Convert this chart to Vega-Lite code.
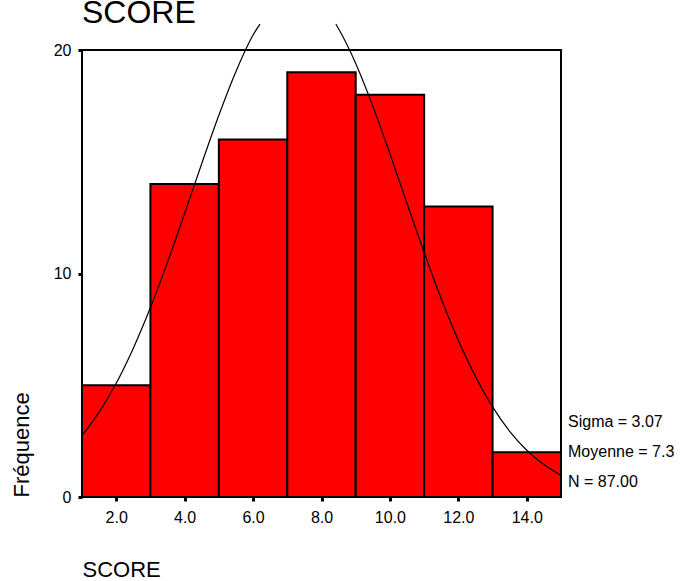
{
  "$schema": "https://vega.github.io/schema/vega-lite/v6.json",
  "autosize": "none",
  "width": 479,
  "height": 447,
  "padding": {"left": 82, "top": 50, "right": 124, "bottom": 84},
  "background": "white",
  "config": {
    "font": "Liberation Sans",
    "view": {"stroke": "black", "strokeWidth": 2},
    "axis": {"grid": false, "domain": false, "labelFont": "Liberation Sans", "titleFont": "Liberation Sans", "labelColor": "black", "titleColor": "black", "tickColor": "black"}
  },
  "title": {"text": "SCORE", "anchor": "start", "frame": "group", "fontSize": 32, "fontWeight": "normal", "font": "Liberation Sans", "color": "black", "baseline": "alphabetic", "offset": 0, "dy": 33},
  "datasets": {
    "bins": [
      {"bin_start": 1, "bin_end": 3, "count": 5},
      {"bin_start": 3, "bin_end": 5, "count": 14},
      {"bin_start": 5, "bin_end": 7, "count": 16},
      {"bin_start": 7, "bin_end": 9, "count": 19},
      {"bin_start": 9, "bin_end": 11, "count": 18},
      {"bin_start": 11, "bin_end": 13, "count": 13},
      {"bin_start": 13, "bin_end": 15, "count": 2}
    ],
    "curve": [
      {"score": 1, "density": 2.75, "branch": "left"},
      {"score": 1.5, "density": 3.8, "branch": "left"},
      {"score": 2, "density": 5.09, "branch": "left"},
      {"score": 2.5, "density": 6.66, "branch": "left"},
      {"score": 3, "density": 8.48, "branch": "left"},
      {"score": 3.5, "density": 10.51, "branch": "left"},
      {"score": 4, "density": 12.69, "branch": "left"},
      {"score": 4.5, "density": 14.92, "branch": "left"},
      {"score": 5, "density": 17.08, "branch": "left"},
      {"score": 5.5, "density": 19.04, "branch": "left"},
      {"score": 6, "density": 20.67, "branch": "left"},
      {"score": 6.2, "density": 21.16, "branch": "left"},
      {"score": 8.42, "density": 21.16, "branch": "right"},
      {"score": 8.5, "density": 20.95, "branch": "right"},
      {"score": 9, "density": 19.4, "branch": "right"},
      {"score": 9.5, "density": 17.49, "branch": "right"},
      {"score": 10, "density": 15.36, "branch": "right"},
      {"score": 10.5, "density": 13.13, "branch": "right"},
      {"score": 11, "density": 10.94, "branch": "right"},
      {"score": 11.5, "density": 8.87, "branch": "right"},
      {"score": 12, "density": 7.0, "branch": "right"},
      {"score": 12.5, "density": 5.39, "branch": "right"},
      {"score": 13, "density": 4.03, "branch": "right"},
      {"score": 13.5, "density": 2.94, "branch": "right"},
      {"score": 14, "density": 2.09, "branch": "right"},
      {"score": 14.5, "density": 1.45, "branch": "right"},
      {"score": 15, "density": 0.97, "branch": "right"}
    ],
    "stats": [
      {"stat": "Sigma", "label": "Sigma = 3.07"},
      {"stat": "Moyenne", "label": "Moyenne = 7.3"},
      {"stat": "N", "label": "N = 87.00"}
    ]
  },
  "layer": [
    {
      "layer": [
        {
          "data": {"name": "bins"},
          "mark": {"type": "rect", "fill": "#ff0000", "stroke": "black", "strokeWidth": 2},
          "encoding": {
            "x": {"field": "bin_start", "type": "quantitative", "scale": {"domain": [1, 15], "nice": false, "zero": false},
              "axis": {"values": [2, 4, 6, 8, 10, 12, 14], "format": ".1f", "labelFontSize": 16, "tickSize": 4, "tickWidth": 3, "labelPadding": 8,
                "title": "SCORE", "titleFontSize": 22, "titleFontWeight": "normal", "titleAnchor": "start", "titleAlign": "left", "titleX": 0, "titleY": 79, "titleBaseline": "alphabetic"}},
            "x2": {"field": "bin_end"},
            "y": {"field": "count", "type": "quantitative", "scale": {"domain": [0, 20], "nice": false},
              "axis": {"values": [0, 10, 20], "format": "d", "labelFontSize": 16, "tickSize": 4, "tickWidth": 3, "labelPadding": 7,
                "title": "Fréquence", "titleFontSize": 22, "titleFontWeight": "normal", "titleAngle": -90, "titleAlign": "left", "titleX": -54, "titleY": 447, "titleBaseline": "alphabetic"}},
            "y2": {"datum": 0}
          }
        },
        {
          "data": {"name": "curve"},
          "mark": {"type": "line", "color": "black", "strokeWidth": 1.2, "interpolate": "monotone", "clip": false},
          "encoding": {
            "x": {"field": "score", "type": "quantitative"},
            "y": {"field": "density", "type": "quantitative", "scale": {"domain": [0, 20], "nice": false}},
            "detail": {"field": "branch"}
          }
        }
      ]
    },
    {
      "data": {"name": "stats"},
      "mark": {"type": "text", "align": "left", "baseline": "middle", "fontSize": 16, "font": "Liberation Sans", "color": "black", "dx": 7, "clip": false},
      "encoding": {
        "x": {"datum": 15, "type": "quantitative"},
        "y": {"field": "stat", "type": "nominal", "scale": {"type": "point", "domain": ["Sigma", "Moyenne", "N"], "range": [372, 432], "padding": 0}, "axis": null},
        "text": {"field": "label"}
      }
    }
  ],
  "resolve": {"scale": {"y": "independent"}}
}
